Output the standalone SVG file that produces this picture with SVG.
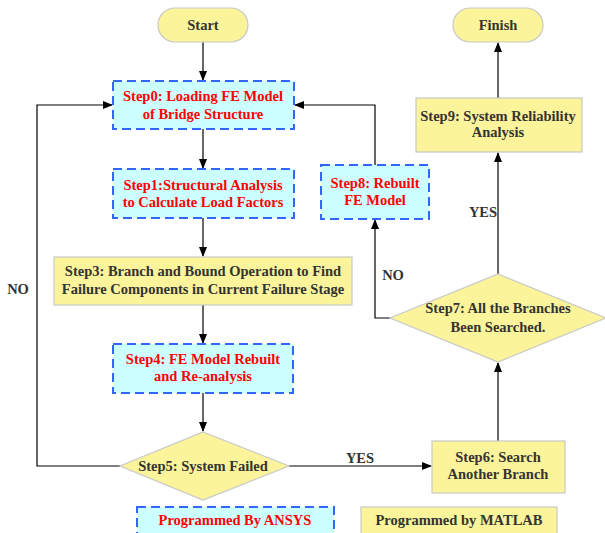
<svg xmlns="http://www.w3.org/2000/svg" width="605" height="533" viewBox="0 0 605 533">
<style>
.y{fill:#FBF49A;stroke:#C8C8C8;stroke-width:1.2}
.c{fill:#CCFFFF;stroke:#3366FF;stroke-width:2;stroke-dasharray:9,5}
.t{font-family:"Liberation Serif",serif;font-weight:bold;font-size:14.5px;text-anchor:middle;fill:#333333}
.r{fill:#FF0000}
.l{fill:none;stroke:#000;stroke-width:1.2}
</style>
<defs>
<marker id="a" markerWidth="10" markerHeight="8" refX="9" refY="4" orient="auto" markerUnits="userSpaceOnUse">
<path d="M0,0 L10,4 L0,8 Z" fill="#000"/>
</marker>
</defs>
<rect width="605" height="533" fill="#fff"/>
<g id="connectors">
<line class="l" x1="203" y1="42" x2="203" y2="80" marker-end="url(#a)"/>
<line class="l" x1="203" y1="129" x2="203" y2="168" marker-end="url(#a)"/>
<line class="l" x1="203" y1="218" x2="203" y2="256" marker-end="url(#a)"/>
<line class="l" x1="203" y1="305" x2="203" y2="343" marker-end="url(#a)"/>
<line class="l" x1="203" y1="393" x2="203" y2="431" marker-end="url(#a)"/>
<polyline class="l" points="120,466 37,466 37,105 112,105" marker-end="url(#a)"/>
<line class="l" x1="289" y1="466" x2="431" y2="466" marker-end="url(#a)"/>
<line class="l" x1="498" y1="441" x2="498" y2="363" marker-end="url(#a)"/>
<line class="l" x1="498" y1="274" x2="498" y2="153" marker-end="url(#a)"/>
<line class="l" x1="498" y1="98" x2="498" y2="43" marker-end="url(#a)"/>
<polyline class="l" points="390,318 375,318 375,220" marker-end="url(#a)"/>
<polyline class="l" points="375,165 375,105 295,105" marker-end="url(#a)"/>
<text class="t" x="18" y="294">NO</text>
<text class="t" x="360" y="463">YES</text>
<text class="t" x="483" y="217">YES</text>
<text class="t" x="393" y="280">NO</text>
</g>
<g id="start">
<rect class="y" x="158" y="8" width="90" height="34" rx="17"/>
<text class="t" x="203" y="30">Start</text>
</g>
<g id="finish">
<rect class="y" x="453" y="8" width="90" height="34" rx="17"/>
<text class="t" x="498" y="30">Finish</text>
</g>
<g id="step0">
<rect class="c" x="113" y="81" width="181" height="48"/>
<text class="t r" x="203" y="101">Step0: Loading FE Model</text>
<text class="t r" x="203" y="119">of Bridge Structure</text>
</g>
<g id="step1">
<rect class="c" x="113" y="169" width="181" height="49"/>
<text class="t r" x="203" y="190">Step1:Structural Analysis</text>
<text class="t r" x="203" y="207">to Calculate Load Factors</text>
</g>
<g id="step3">
<rect class="y" x="54" y="257" width="298" height="48"/>
<text class="t" x="203" y="276">Step3: Branch and Bound Operation to Find</text>
<text class="t" x="203" y="294">Failure Components in Current Failure Stage</text>
</g>
<g id="step4">
<rect class="c" x="113" y="344" width="180" height="49"/>
<text class="t r" x="203" y="364">Step4: FE Model Rebuilt</text>
<text class="t r" x="203" y="381">and Re-analysis</text>
</g>
<g id="step5">
<polygon class="y" points="203,432 289,466 203,500 120,466"/>
<text class="t" x="203" y="471">Step5: System Failed</text>
</g>
<g id="step6">
<rect class="y" x="432" y="441" width="133" height="52"/>
<text class="t" x="498" y="462">Step6: Search</text>
<text class="t" x="498" y="479">Another Branch</text>
</g>
<g id="step7">
<polygon class="y" points="498,274 606,318 498,362 390,318"/>
<text class="t" x="498" y="313">Step7: All the Branches</text>
<text class="t" x="498" y="332">Been Searched.</text>
</g>
<g id="step8">
<rect class="c" x="321" y="165" width="108" height="54"/>
<text class="t r" x="375" y="188">Step8: Rebuilt</text>
<text class="t r" x="375" y="205">FE Model</text>
</g>
<g id="step9">
<rect class="y" x="416" y="98" width="166" height="54"/>
<text class="t" x="498" y="121">Step9: System Reliability</text>
<text class="t" x="498" y="137">Analysis</text>
</g>
<g id="legend-ansys">
<rect class="c" x="137" y="507" width="197" height="30"/>
<text class="t r" x="235" y="525">Programmed By ANSYS</text>
</g>
<g id="legend-matlab">
<rect class="y" x="361" y="507" width="196" height="28"/>
<text class="t" x="459" y="525">Programmed by MATLAB</text>
</g>
</svg>
